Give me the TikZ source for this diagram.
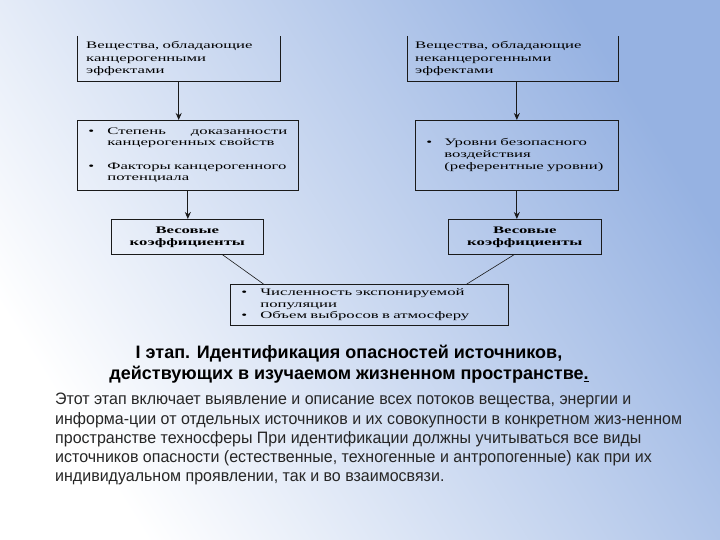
\documentclass[tikz,border=0pt]{standalone}
\usepackage{fontspec}
\usepackage{tikz}
\usetikzlibrary{positioning,arrows.meta,calc}
\setmainfont{Liberation Serif}
\newfontfamily\boxfont{Liberation Serif}[FakeStretch=1.67]
\newfontfamily\capfont{Liberation Sans}[FakeStretch=0.97]
\newfontfamily\headfont{Liberation Sans}[FakeStretch=1.0]
\definecolor{bgblue}{RGB}{150,178,226}
\definecolor{bgmid}{RGB}{228,234,246}
\definecolor{framecol}{HTML}{1A1A1A}

\begin{document}
\begin{tikzpicture}[x=1pt, y=-1pt,
  box/.style={anchor=north west, inner ysep=0pt, align=left,
    font=\boxfont\fontsize{10}{12.5}\selectfont},
  wbox/.style={box, draw=framecol, line width=0.7pt, align=center,
    font=\boxfont\bfseries\fontsize{10}{12}\selectfont},
  frame/.style={draw=framecol, line width=0.7pt},
  arr/.style={-{Stealth[length=7pt, width=6pt]}, line width=1.1pt, framecol},
  lnk/.style={line width=0.6pt, framecol}]
% background
\shade[shading=axis, top color=bgblue, middle color=bgmid, bottom color=white,
  shading angle=-58] (0,0) rectangle (720,540);
\useasboundingbox (0,0) rectangle (720,540);
% upper boxes, open at the top
\node[box, inner xsep=9pt, text width=185pt, minimum height=45pt] (bA) at (77,36)
  {Вещества, обладающие\\канцерогенными\\эффектами};
\node[box, inner xsep=8pt, text width=195pt, minimum height=45pt] (bB) at (407,36)
  {Вещества, обладающие\\неканцерогенными\\эффектами};
\draw[frame] (bA.north west) -- (bA.south west) -- (bA.south east) -- (bA.north east);
\draw[frame] (bB.north west) -- (bB.south west) -- (bB.south east) -- (bB.north east);
% properties
\node[box, frame, inner xsep=11pt, text width=199pt, minimum height=70pt,
  font=\boxfont\fontsize{10}{11.5}\selectfont] (bC) at (77,120)
  {\begin{tabular}{@{}p{19pt}@{}p{180pt}@{}}
   \textbullet & Степень\hspace{\fill}доказанности\\
   & канцерогенных свойств\\[12pt]
   \textbullet & Факторы канцерогенного\\
   & потенциала
   \end{tabular}};
\node[box, frame, inner xsep=11pt, text width=181pt, minimum height=70pt,
  font=\boxfont\fontsize{10}{11.8}\selectfont] (bD) at (415,120)
  {\begin{tabular}{@{}p{18pt}@{}p{163pt}@{}}
   \textbullet & Уровни безопасного\\
   & воздействия\\
   & (референтные уровни)
   \end{tabular}};
% weights
\node[wbox, inner xsep=0pt, minimum width=152pt, minimum height=35pt] (bE) at (111,219)
  {Весовые\\коэффициенты};
\node[wbox, inner xsep=0pt, minimum width=153pt, minimum height=35pt] (bF) at (448,219)
  {Весовые\\коэффициенты};
% population
\node[box, frame, inner xsep=11pt, text width=256pt, minimum height=41pt,
  font=\boxfont\fontsize{10}{11.5}\selectfont] (bG) at (230,284)
  {\begin{tabular}{@{}p{19pt}@{}p{237pt}@{}}
   \textbullet & Численность экспонируемой\\
   & популяции\\
   \textbullet & Объем выбросов в атмосферу
   \end{tabular}};
% connectors
\draw[arr] (bA.south) -- (bA.south |- bC.north);
\draw[arr] (bD.north |- bB.south) -- (bD.north);
\draw[arr] (bC.south) -- (bC.south |- bE.north);
\draw[arr] (bD.south) -- (bD.south |- bF.north);
\draw[lnk] ($(bE.south west)!0.73!(bE.south east)$) -- ($(bG.north west)!0.12!(bG.north east)$);
\draw[lnk] ($(bF.south west)!0.43!(bF.south east)$) -- ($(bG.north west)!0.85!(bG.north east)$);
% caption
\node[align=center, font=\headfont\bfseries\fontsize{18}{21}\selectfont, text=black] (title) at (349,364)
  {I этап. Идентификация опасностей источников,\\
   действующих в изучаемом жизненном пространстве\underline{.}};
\node[anchor=north west, inner sep=0pt, align=left, text=black!85,
  font=\capfont\fontsize{16.5}{19.3}\selectfont] (para) at (55,393)
  {Этот этап включает выявление и описание всех потоков вещества, энергии и\\
   информа-ции от отдельных источников и их совокупности в конкретном жиз-ненном\\
   пространстве техносферы При идентификации должны учитываться все виды\\
   источников опасности (естественные, техногенные и антропогенные) как при их\\
   индивидуальном проявлении, так и во взаимосвязи.};
\end{tikzpicture}
\end{document}
